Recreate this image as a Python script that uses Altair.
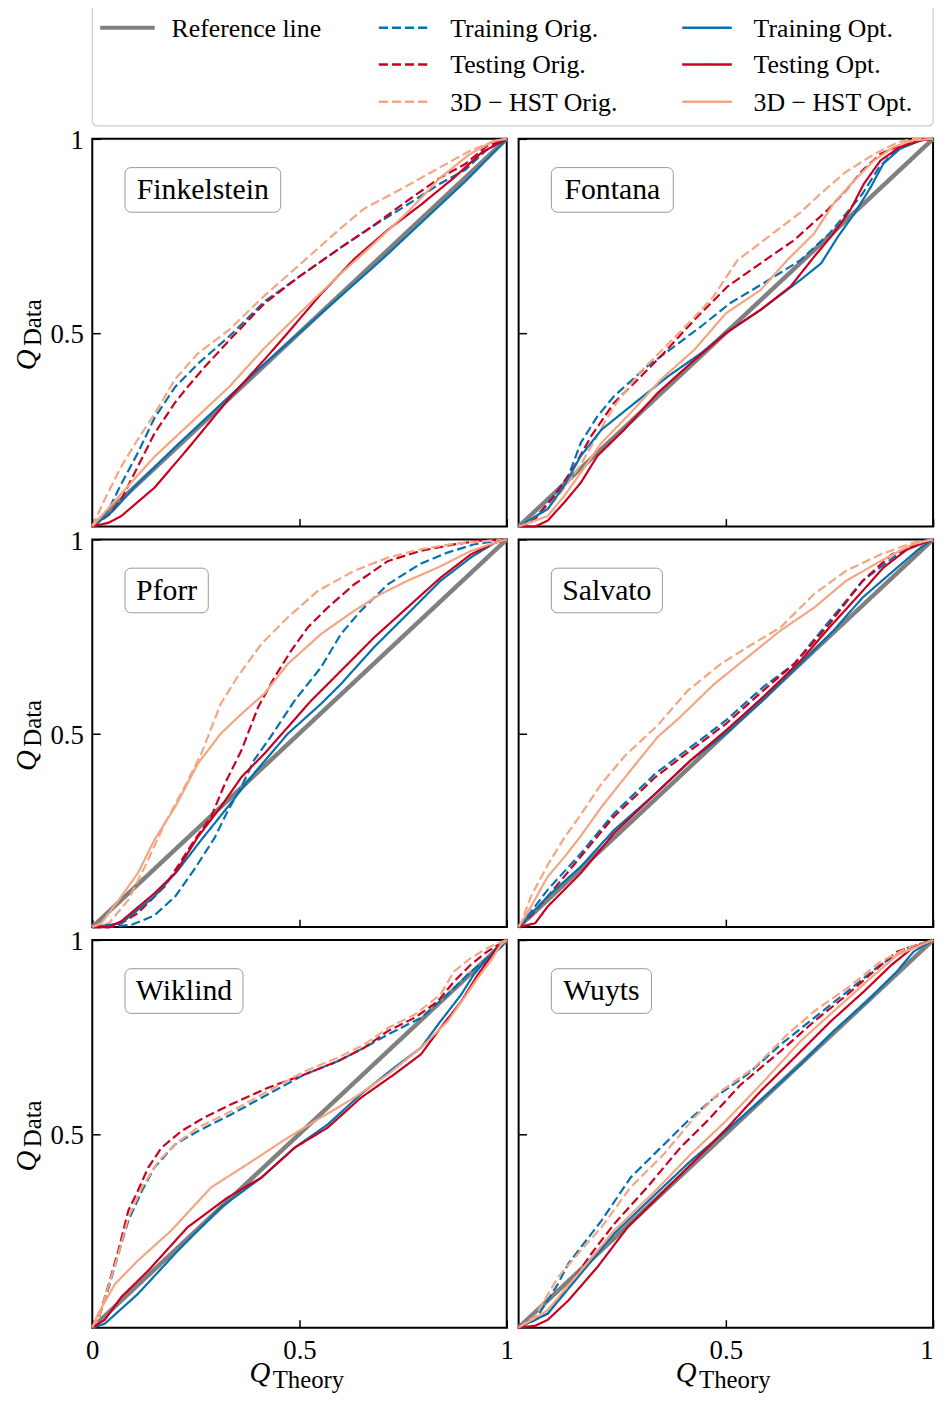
import altair as alt
import pandas as pd

FONT = "Liberation Serif"

# ---------------- data ----------------
PANEL_NAMES = ["Finkelstein", "Fontana", "Pforr", "Salvato", "Wiklind", "Wuyts"]

REF = "Reference line"
TR_ORIG = "Training Orig."
TE_ORIG = "Testing Orig."
HST_ORIG = "3D \u2212 HST Orig."
TR_OPT = "Training Opt."
TE_OPT = "Testing Opt."
HST_OPT = "3D \u2212 HST Opt."

ref_x = [0, 1]
ref_y = [0, 1]

fink_train_orig = [(0,0),(0.04,0.045),(0.07,0.11),(0.11,0.19),(0.15,0.28),(0.2,0.36),(0.255,0.42),(0.33,0.49),(0.415,0.58),(0.5,0.645),(0.6,0.72),(0.67,0.77),(0.76,0.83),(0.84,0.885),(0.9,0.92),(0.95,0.97),(0.985,0.995),(1,1)]
fink_test_orig = [(0,0),(0.04,0.03),(0.07,0.07),(0.11,0.155),(0.15,0.24),(0.2,0.32),(0.23,0.36),(0.27,0.41),(0.33,0.48),(0.415,0.575),(0.5,0.645),(0.6,0.72),(0.67,0.77),(0.76,0.84),(0.84,0.9),(0.9,0.935),(0.95,0.98),(1,1)]
fink_hst_orig = [(0,0),(0.03,0.07),(0.07,0.155),(0.11,0.225),(0.15,0.29),(0.2,0.38),(0.255,0.447),(0.33,0.507),(0.415,0.595),(0.5,0.675),(0.6,0.77),(0.656,0.82),(0.753,0.875),(0.84,0.927),(0.913,0.97),(0.97,0.994),(1,1)]
fink_train_opt = [(0,0),(0.05,0.04),(0.1,0.1),(0.2,0.205),(0.3,0.305),(0.4,0.405),(0.5,0.5),(0.6,0.595),(0.7,0.69),(0.8,0.79),(0.9,0.89),(0.96,0.955),(1,1)]
fink_test_opt = [(0,0),(0.04,0.01),(0.07,0.027),(0.15,0.1),(0.23,0.2),(0.33,0.33),(0.415,0.43),(0.472,0.5),(0.552,0.6),(0.632,0.69),(0.713,0.765),(0.793,0.83),(0.873,0.9),(0.94,0.965),(1,1)]
fink_hst_opt = [(0,0),(0.07,0.085),(0.15,0.18),(0.23,0.26),(0.33,0.36),(0.415,0.46),(0.5,0.55),(0.6,0.653),(0.67,0.72),(0.76,0.81),(0.84,0.9),(0.91,0.96),(0.97,0.995),(1,1)]

font_train_orig = [(0,0),(0.03,0.01),(0.07,0.06),(0.12,0.13),(0.15,0.216),(0.19,0.284),(0.23,0.336),(0.31,0.413),(0.375,0.464),(0.44,0.516),(0.51,0.576),(0.59,0.627),(0.68,0.687),(0.75,0.756),(0.79,0.807),(0.83,0.859),(0.87,0.927),(0.91,0.97),(0.95,0.994),(1,1)]
font_test_orig = [(0,0),(0.04,0.02),(0.087,0.079),(0.135,0.156),(0.175,0.233),(0.23,0.319),(0.295,0.387),(0.35,0.447),(0.424,0.533),(0.504,0.619),(0.584,0.679),(0.665,0.739),(0.745,0.816),(0.79,0.867),(0.83,0.919),(0.873,0.961),(0.95,0.996),(1,1)]
font_hst_orig = [(0,0),(0.07,0.045),(0.11,0.1),(0.15,0.16),(0.19,0.235),(0.23,0.31),(0.295,0.4),(0.36,0.47),(0.424,0.54),(0.47,0.593),(0.528,0.687),(0.6,0.745),(0.68,0.81),(0.73,0.86),(0.79,0.915),(0.857,0.96),(0.913,0.99),(0.95,1.0),(1,1)]
font_train_opt = [(0,0),(0.07,0.045),(0.11,0.105),(0.15,0.182),(0.2,0.25),(0.27,0.31),(0.36,0.387),(0.44,0.447),(0.5,0.499),(0.584,0.559),(0.68,0.636),(0.73,0.679),(0.77,0.747),(0.81,0.807),(0.85,0.876),(0.88,0.936),(0.92,0.974),(0.97,0.996),(1,1)]
font_test_opt = [(0,0),(0.04,0.0),(0.07,0.015),(0.11,0.062),(0.15,0.113),(0.19,0.182),(0.255,0.25),(0.335,0.344),(0.415,0.421),(0.5,0.499),(0.584,0.559),(0.656,0.619),(0.713,0.696),(0.76,0.756),(0.8,0.816),(0.833,0.884),(0.873,0.944),(0.92,0.979),(0.97,0.996),(1,1)]
font_hst_opt = [(0,0),(0.07,0.027),(0.11,0.079),(0.15,0.139),(0.2,0.216),(0.27,0.293),(0.343,0.379),(0.424,0.456),(0.5,0.55),(0.584,0.61),(0.648,0.687),(0.713,0.756),(0.76,0.833),(0.81,0.893),(0.857,0.944),(0.905,0.979),(0.95,0.996),(1,1)]

pforr_train_orig = [(0,0),(0.04,0.0),(0.095,0.006),(0.15,0.03),(0.2,0.079),(0.247,0.15),(0.295,0.23),(0.327,0.3),(0.36,0.362),(0.39,0.43),(0.43,0.49),(0.488,0.584),(0.552,0.67),(0.6,0.756),(0.648,0.816),(0.713,0.884),(0.79,0.936),(0.857,0.966),(0.92,0.987),(1,1)]
pforr_test_orig = [(0,0),(0.04,0.0),(0.07,0.01),(0.11,0.036),(0.175,0.105),(0.247,0.225),(0.287,0.285),(0.32,0.37),(0.36,0.456),(0.4,0.567),(0.44,0.645),(0.48,0.713),(0.52,0.773),(0.568,0.824),(0.632,0.884),(0.713,0.944),(0.79,0.97),(0.873,0.987),(0.937,0.997),(1,1)]
pforr_hst_orig = [(0,0),(0.04,0.01),(0.087,0.07),(0.127,0.156),(0.175,0.267),(0.223,0.362),(0.263,0.447),(0.31,0.576),(0.35,0.645),(0.408,0.73),(0.472,0.799),(0.544,0.867),(0.632,0.919),(0.713,0.953),(0.79,0.974),(0.873,0.989),(1,1)]
pforr_train_opt = [(0,0),(0.07,0.01),(0.15,0.079),(0.207,0.147),(0.263,0.225),(0.327,0.31),(0.39,0.396),(0.472,0.499),(0.552,0.576),(0.6,0.627),(0.68,0.722),(0.76,0.807),(0.84,0.893),(0.913,0.953),(0.97,0.991),(1,1)]
pforr_test_opt = [(0,0),(0.04,0.0),(0.07,0.015),(0.15,0.087),(0.2,0.139),(0.255,0.233),(0.31,0.31),(0.36,0.387),(0.415,0.447),(0.472,0.516),(0.528,0.584),(0.6,0.661),(0.68,0.747),(0.76,0.824),(0.84,0.901),(0.913,0.961),(0.97,0.991),(1,1)]
pforr_hst_opt = [(0,0),(0.022,0.01),(0.07,0.079),(0.11,0.139),(0.15,0.225),(0.2,0.31),(0.255,0.422),(0.31,0.499),(0.36,0.55),(0.415,0.602),(0.472,0.679),(0.552,0.756),(0.632,0.816),(0.696,0.859),(0.76,0.893),(0.833,0.927),(0.913,0.97),(0.97,0.991),(1,1)]

salv_train_orig = [(0,0),(0.03,0.04),(0.07,0.096),(0.15,0.19),(0.23,0.293),(0.33,0.396),(0.415,0.464),(0.5,0.533),(0.59,0.619),(0.665,0.679),(0.75,0.79),(0.83,0.893),(0.913,0.961),(0.97,0.991),(1,1)]
salv_test_orig = [(0,0),(0.03,0.03),(0.07,0.079),(0.15,0.182),(0.23,0.285),(0.33,0.387),(0.415,0.456),(0.5,0.524),(0.59,0.61),(0.665,0.679),(0.75,0.782),(0.83,0.893),(0.9,0.961),(0.97,0.991),(1,1)]
salv_hst_orig = [(0,0),(0.006,0.01),(0.03,0.08),(0.07,0.16),(0.11,0.23),(0.15,0.29),(0.2,0.37),(0.255,0.44),(0.335,0.52),(0.408,0.61),(0.488,0.679),(0.552,0.722),(0.632,0.773),(0.713,0.859),(0.79,0.919),(0.873,0.961),(0.95,0.991),(1,1)]
salv_train_opt = [(0,0),(0.07,0.079),(0.15,0.156),(0.23,0.25),(0.33,0.344),(0.415,0.43),(0.5,0.499),(0.59,0.585),(0.68,0.679),(0.76,0.765),(0.83,0.85),(0.913,0.927),(0.97,0.979),(1,1)]
salv_test_opt = [(0,0),(0.04,0.01),(0.07,0.053),(0.15,0.139),(0.23,0.242),(0.33,0.344),(0.415,0.43),(0.5,0.507),(0.59,0.593),(0.68,0.687),(0.75,0.773),(0.83,0.867),(0.88,0.927),(0.937,0.974),(1,1)]
salv_hst_opt = [(0,0),(0.03,0.053),(0.07,0.13),(0.11,0.18),(0.15,0.235),(0.2,0.31),(0.27,0.404),(0.335,0.49),(0.39,0.542),(0.472,0.627),(0.552,0.696),(0.632,0.765),(0.713,0.824),(0.79,0.893),(0.873,0.944),(0.95,0.987),(1,1)]

wik_train_orig = [(0,0),(0.014,0.02),(0.04,0.105),(0.063,0.19),(0.087,0.276),(0.12,0.353),(0.15,0.413),(0.2,0.473),(0.255,0.507),(0.335,0.55),(0.424,0.602),(0.512,0.653),(0.592,0.687),(0.656,0.722),(0.713,0.756),(0.793,0.799),(0.857,0.859),(0.905,0.91),(0.953,0.953),(0.985,0.991),(1,1)]
wik_test_orig = [(0,0),(0.014,0.02),(0.04,0.113),(0.063,0.199),(0.087,0.302),(0.11,0.353),(0.135,0.413),(0.167,0.464),(0.215,0.507),(0.27,0.542),(0.335,0.576),(0.424,0.619),(0.512,0.653),(0.592,0.687),(0.656,0.722),(0.713,0.765),(0.777,0.799),(0.833,0.841),(0.873,0.893),(0.913,0.936),(0.953,0.97),(0.985,0.991),(1,1)]
wik_hst_orig = [(0,0),(0.014,0.02),(0.04,0.11),(0.063,0.19),(0.087,0.284),(0.12,0.362),(0.16,0.43),(0.2,0.473),(0.255,0.516),(0.335,0.558),(0.424,0.61),(0.512,0.661),(0.592,0.696),(0.656,0.73),(0.713,0.773),(0.777,0.807),(0.84,0.859),(0.873,0.919),(0.913,0.953),(0.953,0.979),(0.985,0.994),(1,1)]
wik_train_opt = [(0,0),(0.03,0.01),(0.11,0.087),(0.207,0.199),(0.31,0.31),(0.408,0.387),(0.488,0.464),(0.568,0.524),(0.648,0.602),(0.728,0.67),(0.793,0.722),(0.84,0.79),(0.89,0.859),(0.92,0.91),(0.953,0.953),(0.985,0.98),(1,1)]
wik_test_opt = [(0,0),(0.03,0.02),(0.07,0.079),(0.135,0.147),(0.23,0.259),(0.327,0.336),(0.408,0.387),(0.488,0.464),(0.568,0.516),(0.648,0.593),(0.728,0.653),(0.793,0.705),(0.84,0.773),(0.89,0.841),(0.93,0.91),(0.953,0.944),(0.977,0.979),(1,1)]
wik_hst_opt = [(0,0),(0.014,0.036),(0.055,0.113),(0.11,0.173),(0.19,0.25),(0.287,0.362),(0.375,0.422),(0.472,0.49),(0.552,0.542),(0.632,0.593),(0.713,0.653),(0.793,0.722),(0.857,0.79),(0.897,0.85),(0.93,0.902),(0.96,0.944),(0.985,0.987),(1,1)]

wuy_train_orig = [(0,0),(0.04,0.02),(0.07,0.07),(0.095,0.113),(0.12,0.165),(0.15,0.207),(0.2,0.276),(0.27,0.387),(0.335,0.456),(0.408,0.533),(0.472,0.593),(0.552,0.653),(0.632,0.73),(0.713,0.799),(0.793,0.867),(0.873,0.936),(0.937,0.979),(1,1)]
wuy_test_orig = [(0,0),(0.07,0.036),(0.12,0.105),(0.175,0.19),(0.23,0.267),(0.31,0.362),(0.39,0.464),(0.455,0.533),(0.536,0.627),(0.632,0.713),(0.713,0.79),(0.793,0.859),(0.857,0.919),(0.913,0.97),(1,1)]
wuy_hst_orig = [(0,0),(0.04,0.03),(0.095,0.13),(0.15,0.199),(0.2,0.259),(0.27,0.362),(0.35,0.447),(0.424,0.542),(0.488,0.61),(0.568,0.67),(0.648,0.756),(0.713,0.816),(0.793,0.876),(0.873,0.944),(0.937,0.979),(1,1)]
wuy_train_opt = [(0,0),(0.07,0.036),(0.15,0.139),(0.23,0.242),(0.33,0.344),(0.415,0.43),(0.5,0.507),(0.6,0.602),(0.68,0.679),(0.76,0.765),(0.84,0.841),(0.913,0.919),(0.953,0.97),(1,1)]
wuy_test_opt = [(0,0),(0.04,0.005),(0.07,0.02),(0.12,0.07),(0.19,0.156),(0.263,0.259),(0.343,0.344),(0.424,0.43),(0.504,0.516),(0.584,0.61),(0.665,0.696),(0.753,0.79),(0.833,0.867),(0.9,0.936),(0.95,0.979),(1,1)]
wuy_hst_opt = [(0,0),(0.07,0.045),(0.15,0.147),(0.23,0.25),(0.33,0.353),(0.415,0.447),(0.5,0.533),(0.6,0.645),(0.68,0.739),(0.76,0.816),(0.84,0.893),(0.913,0.961),(1,1)]

CURVES = {
    "Finkelstein": {TR_ORIG: fink_train_orig, TE_ORIG: fink_test_orig, HST_ORIG: fink_hst_orig,
                    TR_OPT: fink_train_opt, TE_OPT: fink_test_opt, HST_OPT: fink_hst_opt},
    "Fontana": {TR_ORIG: font_train_orig, TE_ORIG: font_test_orig, HST_ORIG: font_hst_orig,
                TR_OPT: font_train_opt, TE_OPT: font_test_opt, HST_OPT: font_hst_opt},
    "Pforr": {TR_ORIG: pforr_train_orig, TE_ORIG: pforr_test_orig, HST_ORIG: pforr_hst_orig,
              TR_OPT: pforr_train_opt, TE_OPT: pforr_test_opt, HST_OPT: pforr_hst_opt},
    "Salvato": {TR_ORIG: salv_train_orig, TE_ORIG: salv_test_orig, HST_ORIG: salv_hst_orig,
                TR_OPT: salv_train_opt, TE_OPT: salv_test_opt, HST_OPT: salv_hst_opt},
    "Wiklind": {TR_ORIG: wik_train_orig, TE_ORIG: wik_test_orig, HST_ORIG: wik_hst_orig,
                TR_OPT: wik_train_opt, TE_OPT: wik_test_opt, HST_OPT: wik_hst_opt},
    "Wuyts": {TR_ORIG: wuy_train_orig, TE_ORIG: wuy_test_orig, HST_ORIG: wuy_hst_orig,
              TR_OPT: wuy_train_opt, TE_OPT: wuy_test_opt, HST_OPT: wuy_hst_opt},
}

# legend layout (3 columns x 3 rows, as in the reference)
legend_labels = [REF, TR_ORIG, TE_ORIG, HST_ORIG, TR_OPT, TE_OPT, HST_OPT]
legend_col = [0, 1, 1, 1, 2, 2, 2]
legend_row = [0, 0, 1, 2, 0, 1, 2]

# ---------------- styles ----------------
SERIES_ORDER = [REF, TR_ORIG, TE_ORIG, HST_ORIG, TR_OPT, TE_OPT, HST_OPT]
BLUE, RED, SALMON, GRAY = "#0571b0", "#ca0020", "#f4a582", "#808080"
COLORS = [GRAY, BLUE, RED, SALMON, BLUE, RED, SALMON]
DASH = [9.2, 4]
SOLID = [1, 0]
DASHES = [SOLID, DASH, DASH, DASH, SOLID, SOLID, SOLID]
LINE_W = 2.2
REF_W = 4.5

BOX_W = {"Finkelstein": 157, "Fontana": 123, "Pforr": 84, "Salvato": 112, "Wiklind": 119, "Wuyts": 101}
PW, PH = 418, 391
GAP_COL, GAP_ROW = 12, 13
LEG_W = 2 * PW + GAP_COL          # legend frame spans both columns
LEG_TOP, LEG_BOTTOM = -140, -13   # frame, relative to the top-left panel (top is off-page)
LEG_COL_X = [8, 289, 595]
LEG_ROW_Y = [-112, -75, -37.5]

color = alt.Color("series:N", scale=alt.Scale(domain=SERIES_ORDER, range=COLORS), legend=None)
dash = alt.StrokeDash("series:N", scale=alt.Scale(domain=SERIES_ORDER, range=DASHES), legend=None)

rows = []
for name, series in CURVES.items():
    for s, pts in series.items():
        for i, (x, y) in enumerate(pts):
            rows.append({"panel": name, "series": s, "i": i, "x": x, "y": y})
curve_df = pd.DataFrame(rows)
ref_df = pd.DataFrame({"series": [REF, REF], "i": [0, 1], "x": ref_x, "y": ref_y})
leg_df = pd.DataFrame({"series": legend_labels, "col": legend_col, "row": legend_row})

AXIS_COMMON = dict(title=None, offset=-8, tickSize=8, tickWidth=1.5, tickColor="black",
                   domain=False, grid=False, labelFont=FONT, labelFontSize=27,
                   labelColor="black", format="~g", labelOverlap=False)


def make_legend():
    lx = alt.X("col:Q", scale=alt.Scale(domain=[0, 1, 2], range=LEG_COL_X), axis=None)
    ly = alt.Y("row:Q", scale=alt.Scale(domain=[0, 1, 2], range=LEG_ROW_Y), axis=None)
    frame = alt.Chart(pd.DataFrame({"f": [0]})).mark_rect(
        fill="white", stroke="#cccccc", strokeWidth=1.2, cornerRadius=5).encode(
        x=alt.value(0), x2=alt.value(LEG_W), y=alt.value(LEG_TOP), y2=alt.value(LEG_BOTTOM))
    ref_sym = alt.Chart(leg_df).transform_filter(alt.datum.series == REF).mark_rule(
        strokeWidth=REF_W - 0.5, x2Offset=55).encode(
        x=lx, x2=alt.X2("col:Q"), y=ly, color=color, strokeDash=dash)
    sym = alt.Chart(leg_df).transform_filter(alt.datum.series != REF).mark_rule(
        strokeWidth=LINE_W + 0.3, x2Offset=50).encode(
        x=lx, x2=alt.X2("col:Q"), y=ly, color=color, strokeDash=dash)
    lab = alt.Chart(leg_df).mark_text(
        align="left", baseline="middle", dx=72, dy=1, font=FONT, fontSize=26, color="black").encode(
        x=lx, y=ly, text="series:N")
    return alt.layer(frame, ref_sym, sym, lab)


def make_panel(name, r, c):
    bottom = r == 2
    left = c == 0
    xaxis = alt.Axis(values=[0, 0.5, 1] if left else [0.5, 1], labels=bottom,
                     labelPadding=10, labelFlush=not left, **AXIS_COMMON)
    yaxis = alt.Axis(values=[0.5, 1], labels=left, labelPadding=9, labelOffset=2,
                     labelFlush=False, **AXIS_COMMON)
    xs = alt.Scale(domain=[0, 1], nice=False, zero=False)
    ys = alt.Scale(domain=[0, 1], nice=False, zero=False)
    X = alt.X("x:Q", scale=xs, axis=xaxis)
    Y = alt.Y("y:Q", scale=ys, axis=yaxis)

    ref = alt.Chart(ref_df).mark_line(strokeWidth=REF_W).encode(
        x=X, y=Y, color=color, strokeDash=dash, order="i:Q")
    curves = alt.Chart(curve_df[curve_df.panel == name]).mark_line(strokeWidth=LINE_W).encode(
        x=X, y=Y, color=color, strokeDash=dash, order="i:Q", detail="series:N")
    lab_df = pd.DataFrame({"label": [name]})
    box = alt.Chart(lab_df).mark_rect(
        fill="white", stroke="#999999", strokeWidth=1, cornerRadius=6).encode(
        x=alt.value(33), x2=alt.value(33 + BOX_W[name]), y=alt.value(29), y2=alt.value(74))
    txt = alt.Chart(lab_df).mark_text(
        font=FONT, fontSize=30, color="black", align="center", baseline="alphabetic").encode(
        x=alt.value(33 + BOX_W[name] / 2), y=alt.value(61), text="label:N")
    layers = [ref, curves, box, txt]
    if bottom:
        q = alt.Chart(pd.DataFrame({"t": ["Q"]})).mark_text(
            font=FONT, fontSize=29, fontStyle="italic", color="black", align="center",
            baseline="alphabetic").encode(x=alt.value(169), y=alt.value(446), text="t:N")
        sub = alt.Chart(pd.DataFrame({"t": ["Theory"]})).mark_text(
            font=FONT, fontSize=25, color="black", align="left",
            baseline="alphabetic").encode(x=alt.value(182), y=alt.value(452), text="t:N")
        layers += [q, sub]
    if left:
        q = alt.Chart(pd.DataFrame({"t": ["Q"]})).mark_text(
            font=FONT, fontSize=29, fontStyle="italic", color="black", align="center",
            baseline="alphabetic", angle=270).encode(x=alt.value(-57), y=alt.value(223), text="t:N")
        sub = alt.Chart(pd.DataFrame({"t": ["Data"]})).mark_text(
            font=FONT, fontSize=25, color="black", align="left",
            baseline="alphabetic", angle=270).encode(x=alt.value(-52), y=alt.value(209), text="t:N")
        layers += [q, sub]
    panel = alt.layer(*layers)
    if r == 0 and c == 0:
        panel = alt.layer(panel, make_legend()).resolve_scale(x="independent", y="independent")
    return panel.properties(width=PW, height=PH)


panels = [make_panel(PANEL_NAMES[2 * r + c], r, c) for r in range(3) for c in range(2)]

chart = (
    alt.concat(*panels, columns=2, spacing={"row": GAP_ROW, "column": GAP_COL}, bounds="flush")
    .resolve_scale(color="shared", strokeDash="shared")
    .properties(padding={"left": 4, "top": -16, "right": -1, "bottom": 0})
    .configure_view(stroke="black", strokeWidth=2)
)

chart.save("out.html", embed_options={"renderer": "svg", "actions": False})
